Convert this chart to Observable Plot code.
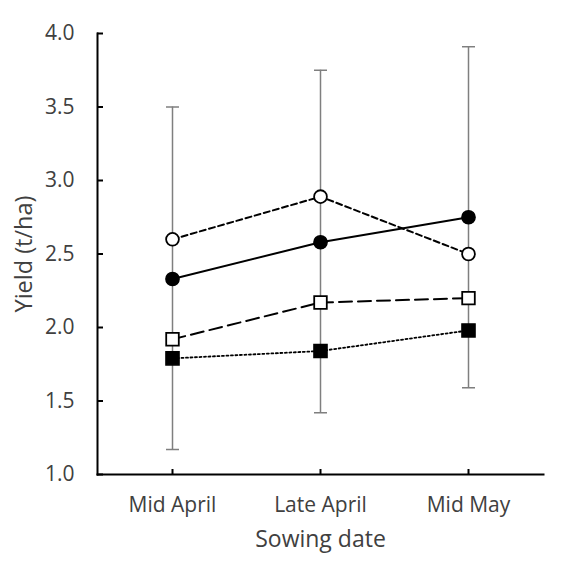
<!DOCTYPE html>
<html>
<head>
<meta charset="utf-8">
<script src="https://cdn.jsdelivr.net/npm/d3@7"></script>
<script src="https://cdn.jsdelivr.net/npm/@observablehq/plot@0.6"></script>
<style>
  html, body { margin: 0; padding: 0; background: #fff; }
</style>
</head>
<body>
<div id="chart"></div>
<script>
const categories = ["Mid April", "Late April", "Mid May"];
const openCircle = [2.60, 2.89, 2.50];
const filledCircle = [2.33, 2.58, 2.75];
const openSquare = [1.92, 2.17, 2.20];
const filledSquare = [1.79, 1.84, 1.98];
const errLow = [1.17, 1.42, 1.59];
const errHigh = [3.50, 3.75, 3.91];
const yTicks = [1.0, 1.5, 2.0, 2.5, 3.0, 3.5, 4.0];

const toRows = (vals) => categories.map((c, i) => ({cat: c, v: vals[i]}));
const errRows = categories.map((c, i) => ({cat: c, lo: errLow[i], hi: errHigh[i]}));
const capRows = categories.flatMap((c, i) => [{cat: c, v: errLow[i]}, {cat: c, v: errHigh[i]}]);

const textColor = "#404040";

// horizontal-line symbol for error bar caps
const capSymbol = {
  draw(context, size) {
    const h = Math.sqrt(size / Math.PI);
    context.moveTo(-h, 0);
    context.lineTo(h, 0);
  }
};

const chart = Plot.plot({
  width: 567,
  height: 586,
  marginLeft: 97,
  marginRight: 24,
  marginTop: 33,
  marginBottom: 112,
  style: {fontFamily: "'Open Sans', sans-serif", background: "#fff", color: textColor},
  x: {type: "point", domain: categories, padding: 0.5, axis: null},
  y: {domain: [1, 4], axis: null},
  marks: [
    // error bars
    Plot.ruleX(errRows, {x: "cat", y1: "lo", y2: "hi", stroke: "#7f7f7f", strokeWidth: 1.5}),
    Plot.dot(capRows, {x: "cat", y: "v", symbol: capSymbol, r: 6.5, fill: "none", stroke: "#7f7f7f", strokeWidth: 1.5}),
    // axes lines
    Plot.frame({anchor: "left", stroke: "#000", strokeWidth: 2}),
    Plot.frame({anchor: "bottom", stroke: "#000", strokeWidth: 2}),
    Plot.tickY(yTicks, {y: d => d, stroke: "#000", strokeWidth: 2, insetRight: 440}),
    Plot.tickX(categories, {x: d => d, stroke: "#000", strokeWidth: 2, insetTop: 436}),
    Plot.axisY(yTicks, {tickSize: 0, tickPadding: 23, tickFormat: d3.format(".1f"), fontSize: 21, fill: textColor, label: null}),
    Plot.axisX(categories, {tickSize: 0, tickPadding: 23, fontSize: 21, fill: textColor, label: null}),
    Plot.text(["Yield (t/ha)"], {frameAnchor: "middle", textAnchor: "middle", rotate: -90, dx: -296, fontSize: 23.5, fill: textColor}),
    Plot.text(["Sowing date"], {frameAnchor: "bottom", textAnchor: "middle", dy: 72, fontSize: 23, fill: textColor}),
    // lines
    Plot.line(toRows(openCircle), {x: "cat", y: "v", stroke: "#000", strokeWidth: 2, strokeDasharray: "6,3.5"}),
    Plot.line(toRows(filledCircle), {x: "cat", y: "v", stroke: "#000", strokeWidth: 2}),
    Plot.line(toRows(openSquare), {x: "cat", y: "v", stroke: "#000", strokeWidth: 2, strokeDasharray: "13,6"}),
    Plot.line(toRows(filledSquare), {x: "cat", y: "v", stroke: "#000", strokeWidth: 1.8, strokeDasharray: "2,2.5"}),
    // markers
    Plot.dot(toRows(openCircle), {x: "cat", y: "v", r: 6.4, fill: "#fff", stroke: "#000", strokeWidth: 1.8}),
    Plot.dot(toRows(filledCircle), {x: "cat", y: "v", r: 6.6, fill: "#000", stroke: "#000", strokeWidth: 1.5}),
    Plot.dot(toRows(openSquare), {x: "cat", y: "v", symbol: "square", r: 7.1, fill: "#fff", stroke: "#000", strokeWidth: 1.8}),
    Plot.dot(toRows(filledSquare), {x: "cat", y: "v", symbol: "square", r: 7.4, fill: "#000", stroke: "#000", strokeWidth: 1.5})
  ]
});

document.getElementById("chart").appendChild(chart);
</script>
</body>
</html>
